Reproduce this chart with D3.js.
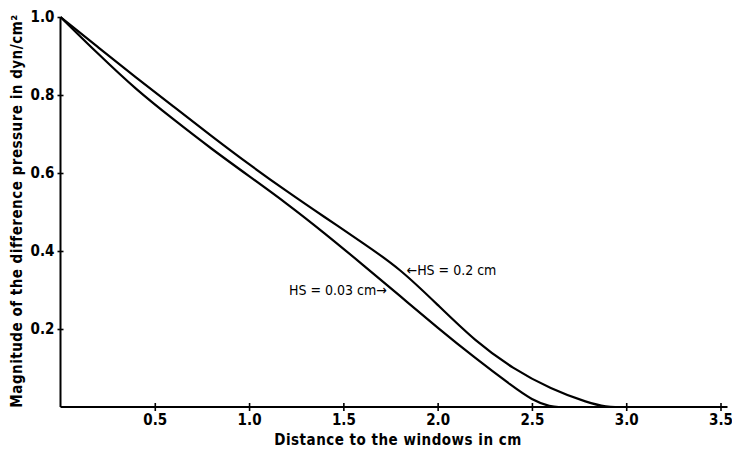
<!DOCTYPE html>
<html>
<head>
<meta charset="utf-8">
<script src="https://cdn.jsdelivr.net/npm/d3@7"></script>
<style>
  body { margin: 0; background: #fff; }
  svg text { font-family: "DejaVu Sans Condensed", "DejaVu Sans", sans-serif; fill: #000; }
</style>
</head>
<body>
<div id="chart"></div>
<script>
// values (distance in cm, pressure in dyn/cm^2)
const distHS02 = [0, 0.2, 0.4, 0.6, 0.8, 1.0, 1.2, 1.4, 1.6, 1.8, 2.0, 2.2, 2.4, 2.6, 2.8, 2.9, 2.95];
const pressHS02 = [1.0, 0.922, 0.845, 0.77, 0.695, 0.622, 0.553, 0.487, 0.422, 0.355, 0.262, 0.168, 0.098, 0.046, 0.01, 0.0, 0.0];
const distHS003 = [0, 0.2, 0.4, 0.6, 0.8, 1.0, 1.2, 1.4, 1.6, 1.8, 2.0, 2.2, 2.4, 2.5, 2.6, 2.65];
const pressHS003 = [1.0, 0.905, 0.814, 0.737, 0.662, 0.592, 0.522, 0.446, 0.366, 0.285, 0.203, 0.125, 0.052, 0.018, 0.0, 0.0];
const xTicks = [0.5, 1.0, 1.5, 2.0, 2.5, 3.0, 3.5];
const yTicks = [0.2, 0.4, 0.6, 0.8, 1.0];
const seriesNames = ["HS = 0.2 cm", "HS = 0.03 cm"];

const W = 732, H = 456;
const svg = d3.select("#chart").append("svg")
    .attr("width", W)
    .attr("height", H);

const x = d3.scaleLinear().domain([0, 3.5]).range([60.5, 720.5]);
const y = d3.scaleLinear().domain([0, 1]).range([407, 17]);

// x axis
const gx = svg.append("g")
    .attr("transform", `translate(0,${y(0)})`)
    .call(d3.axisBottom(x).tickValues(xTicks).tickFormat(d3.format(".1f")).tickSize(4).tickPadding(3));
gx.select(".domain").remove();
gx.selectAll(".tick line").attr("y1", -4).attr("y2", 4).attr("stroke-width", 1.6);
gx.selectAll(".tick text").style("font-size", "15px").style("font-weight", "bold");
svg.append("line")
    .attr("x1", x(0)).attr("x2", x(3.5) + 7)
    .attr("y1", y(0)).attr("y2", y(0))
    .attr("stroke", "#000").attr("stroke-width", 2);

// y axis
const gy = svg.append("g")
    .attr("transform", `translate(${x(0)},0)`)
    .call(d3.axisLeft(y).tickValues(yTicks).tickFormat(d3.format(".1f")).tickSize(3).tickPadding(3));
gy.select(".domain").remove();
gy.selectAll(".tick line").attr("x1", -3).attr("x2", d => d === 1 ? 0 : 3).attr("stroke-width", 1.6);
gy.selectAll(".tick text").style("font-size", "15px").style("font-weight", "bold");
svg.append("line")
    .attr("x1", x(0)).attr("x2", x(0))
    .attr("y1", y(1)).attr("y2", y(0))
    .attr("stroke", "#000").attr("stroke-width", 2);

// curves
const line = d3.line()
    .x(d => x(d[0]))
    .y(d => y(d[1]))
    .curve(d3.curveBasis);

[[distHS02, pressHS02], [distHS003, pressHS003]].forEach(([xs, ys]) => {
    svg.append("path")
        .datum(xs.map((v, i) => [v, ys[i]]))
        .attr("d", line)
        .attr("fill", "none")
        .attr("stroke", "#000")
        .attr("stroke-width", 2.2);
});

// curve labels
svg.append("text")
    .attr("x", x(1.83) + 1)
    .attr("y", y(0.35))
    .attr("dy", "0.35em")
    .style("font-size", "14px")
    .text("\u2190" + seriesNames[0]);

svg.append("text")
    .attr("x", x(1.73))
    .attr("y", y(0.30))
    .attr("dy", "0.35em")
    .attr("text-anchor", "end")
    .style("font-size", "14px")
    .text(seriesNames[1] + "\u2192");

// axis titles
svg.append("text")
    .attr("x", 398)
    .attr("y", 445)
    .attr("text-anchor", "middle")
    .style("font-size", "15px")
    .style("font-weight", "bold")
    .style("letter-spacing", "0.5px")
    .text("Distance to the windows in cm");

svg.append("text")
    .attr("transform", `translate(22,${211})rotate(-90)`)
    .attr("text-anchor", "middle")
    .style("font-size", "15px")
    .style("font-weight", "bold")
    .style("letter-spacing", "0.5px")
    .text("Magnitude of the difference pressure in dyn/cm\u00b2");
</script>
</body>
</html>
